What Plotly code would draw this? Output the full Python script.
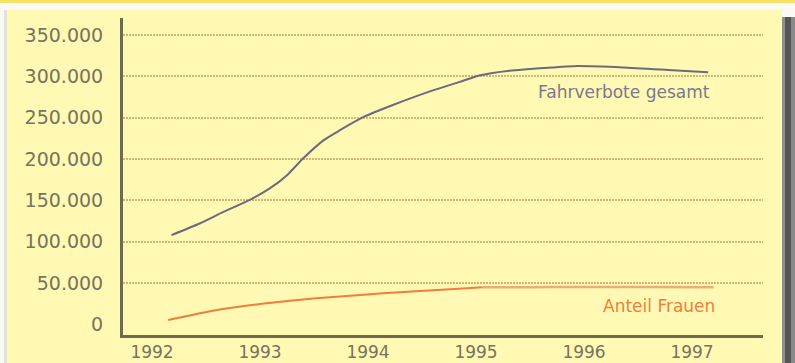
import plotly.graph_objects as go

# Fahrverbote (driving bans), 1992-1997
years_total = [1992.18, 1992.44, 1992.66, 1992.91, 1993.09, 1993.25, 1993.40, 1993.59,
               1993.74, 1993.96, 1994.23, 1994.54, 1994.85, 1995.04, 1995.31, 1995.71,
               1995.90, 1996.36, 1996.82, 1997.15]
total = [108000, 122000, 136000, 151000, 164500, 180500, 201000, 223000,
         235000, 251000, 265500, 280500, 293500, 301500, 307000, 311000,
         312500, 311000, 307500, 305000]

years_women = [1992.15, 1992.60, 1993.06, 1993.52, 1994.14, 1994.76, 1995.06,
               1995.50, 1996.00, 1996.50, 1997.20]
women = [5200, 17300, 25400, 31500, 37500, 42400, 44800,
         45000, 45300, 45200, 44800]

year_ticks = [1992, 1993, 1994, 1995, 1996, 1997]
value_ticks = [0, 50000, 100000, 150000, 200000, 250000, 300000, 350000]
value_labels = ["0", "50.000", "100.000", "150.000", "200.000", "250.000", "300.000", "350.000"]

W, H = 795, 363
L, R, T, B = 123, 32, 18, 28
PW, PH = W - L - R, H - T - B

PANEL = "#FFF9B4"
AXIS = "#6E6A4E"
TEXT = "#77735C"
ORANGE = "#F07E3C"


def px_x(p):
    return (p - L) / PW


def px_y(p):
    return (H - B - p) / PH


fig = go.Figure()
fig.add_trace(go.Scatter(x=years_total, y=total, mode="lines",
                         line=dict(color="#6C6A7C", width=2, shape="spline", smoothing=0.6),
                         hoverinfo="skip", showlegend=False))
# women's share: rising part in full orange, plateau after 1995 in a paler tone
split = 6
fig.add_trace(go.Scatter(x=years_women[split:], y=women[split:], mode="lines",
                         line=dict(color="#E9AE7C", width=2.5, shape="spline", smoothing=0.6),
                         hoverinfo="skip", showlegend=False))
fig.add_trace(go.Scatter(x=years_women[:split + 1], y=women[:split + 1], mode="lines",
                         line=dict(color=ORANGE, width=2, shape="spline", smoothing=0.6),
                         hoverinfo="skip", showlegend=False))

shapes = [
    # page strip and framed panel
    dict(type="rect", xref="paper", yref="paper", x0=px_x(0), x1=px_x(W), y0=px_y(3), y1=px_y(0),
         fillcolor="#F6E266", line_width=0, layer="below"),
    dict(type="rect", xref="paper", yref="paper", x0=px_x(4), x1=px_x(7), y0=px_y(H), y1=px_y(10),
         fillcolor="#E2E2DA", line_width=0, layer="below"),
    dict(type="rect", xref="paper", yref="paper", x0=px_x(7), x1=px_x(782), y0=px_y(H), y1=px_y(10),
         fillcolor=PANEL, line_width=0, layer="below"),
    # drop shadow on the right
    dict(type="rect", xref="paper", yref="paper", x0=px_x(782), x1=px_x(785), y0=px_y(H), y1=px_y(17),
         fillcolor="#8E8E8E", line_width=0, layer="below"),
    dict(type="rect", xref="paper", yref="paper", x0=px_x(785), x1=px_x(791), y0=px_y(H), y1=px_y(17),
         fillcolor="#555555", line_width=0, layer="below"),
    dict(type="rect", xref="paper", yref="paper", x0=px_x(791), x1=px_x(795), y0=px_y(H), y1=px_y(17),
         fillcolor="#8A8A8A", line_width=0, layer="below"),
]

fig.update_layout(
    width=W, height=H,
    margin=dict(l=L, r=R, t=T, b=B, pad=0, autoexpand=False),
    paper_bgcolor="#FAFAF4",
    plot_bgcolor="rgba(0,0,0,0)",
    shapes=shapes,
    font=dict(family="DejaVu Sans", color=TEXT),
    xaxis=dict(range=[1991.731, 1997.657], tickvals=year_ticks, ticktext=[str(y) for y in year_ticks],
               showgrid=False, zeroline=False, showline=True, linecolor=AXIS, linewidth=3,
               ticks="", tickfont=dict(size=17, color=TEXT), automargin=False),
    yaxis=dict(range=[-12950, 370800], tickvals=value_ticks, ticktext=value_labels,
               showgrid=True, gridcolor="#D6B478", gridwidth=1.5, griddash="2px,1px",
               zeroline=True, zerolinecolor=PANEL, zerolinewidth=4,
               showline=True, linecolor=AXIS, linewidth=3,
               ticks="", tickfont=dict(size=19, color=TEXT), ticklabelstandoff=13,
               automargin=False),
    annotations=[
        dict(x=1997.185, y=281200, text="Fahrverbote gesamt", showarrow=False,
             xanchor="right", yanchor="middle", font=dict(size=17, color="#7A7890")),
        dict(x=1997.23, y=22150, text="Anteil Frauen", showarrow=False,
             xanchor="right", yanchor="middle", font=dict(size=17, color=ORANGE)),
    ],
)

fig.write_html("out.html")
